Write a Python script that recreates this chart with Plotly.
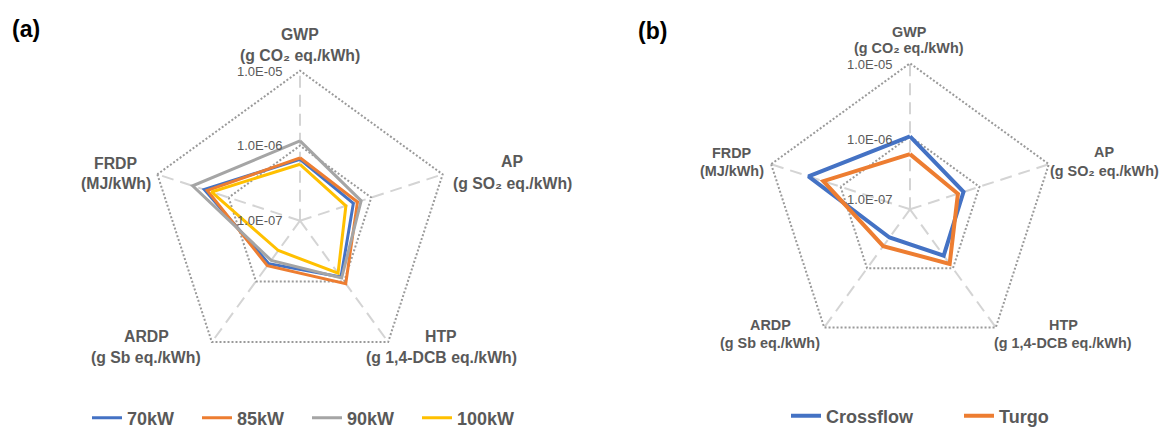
import plotly.graph_objects as go

# Page is 1167x428; the HTML body adds an 8px margin, so the figure is 1159x420
VIEW_W, VIEW_H = 1167, 428
PAGE_OFF = 8
W, H = VIEW_W - PAGE_OFF, VIEW_H - PAGE_OFF

categories = ["GWP", "AP", "HTP", "ARDP", "FRDP"]
cat_titles = ["GWP", "AP", "HTP", "ARDP", "FRDP"]
cat_units = ["(g CO₂ eq./kWh)", "(g SO₂ eq./kWh)", "(g 1,4-DCB eq./kWh)", "(g Sb eq./kWh)", "(MJ/kWh)"]

a_names = ["70kW", "85kW", "90kW", "100kW"]
a_70kW = [6.6e-7, 5.6e-7, 8.5e-7, 5.1e-7, 2.2e-6]
a_85kW = [6.9e-7, 6.4e-7, 1.09e-6, 5.5e-7, 2.0e-6]
a_90kW = [1.16e-6, 7.2e-7, 8.8e-7, 4.5e-7, 3.2e-6]
a_100kW = [5.65e-7, 4.4e-7, 7.3e-7, 3.1e-7, 1.74e-6]
a_colors = ["#4472C4", "#ED7D31", "#A5A5A5", "#FFC000"]

b_names = ["Crossflow", "Turgo"]
b_crossflow = [1.0e-6, 5.9e-7, 6.1e-7, 3.0e-7, 2.9e-6]
b_turgo = [5.7e-7, 4.9e-7, 8.4e-7, 4.2e-7, 1.77e-6]
b_colors = ["#4472C4", "#ED7D31"]

tick_vals = [1e-7, 1e-6, 1e-5]
tick_text = ["1.0E-07", "1.0E-06", "1.0E-05"]

TXT = "#595959"
FONT = "Liberation Sans, Arial, sans-serif"
R_MIN, R_MAX = -7, -4.98  # log10 radial range (slightly beyond 1E-05 so its grid is drawn)


def closed(v):
    return list(v) + [v[0]]


fig = go.Figure()
for name, vals, col in zip(a_names, [a_70kW, a_85kW, a_90kW, a_100kW], a_colors):
    fig.add_trace(go.Scatterpolar(r=closed(vals), theta=closed(categories), mode="lines",
                                  line=dict(color=col, width=3), name=name,
                                  subplot="polar", legend="legend"))
for name, vals, col in zip(b_names, [b_crossflow, b_turgo], b_colors):
    fig.add_trace(go.Scatterpolar(r=closed(vals), theta=closed(categories), mode="lines",
                                  line=dict(color=col, width=4), name=name,
                                  subplot="polar2", legend="legend2"))


def px(x, y):
    """page pixel position -> paper fraction"""
    return (x - PAGE_OFF) / W, 1 - (y - PAGE_OFF) / H


def polar_cfg(cx, cy, R_ring):
    # R_ring: pixel radius of the 1E-05 ring; domain radius covers full range
    R = R_ring * (R_MAX - R_MIN) / 2.0
    x0, y0 = px(cx - R, cy + R)
    x1, y1 = px(cx + R, cy - R)
    return dict(
        domain=dict(x=[x0, x1], y=[y0, y1]),
        gridshape="linear",
        bgcolor="white",
        radialaxis=dict(type="log", range=[R_MIN, R_MAX], angle=90,
                        tickvals=tick_vals, showticklabels=False, showline=False,
                        ticks="", gridcolor="#9A9A9A", gridwidth=1.5, griddash="2px,2px"),
        angularaxis=dict(categoryorder="array", categoryarray=categories,
                         direction="clockwise", rotation=90, showline=False,
                         showticklabels=False, ticks="",
                         gridcolor="#D4D4D4", gridwidth=2, griddash="12px,7px"),
    )


fig.update_layout(polar=polar_cfg(300, 220.7, 150), polar2=polar_cfg(910, 209.3, 146))

annotations = []
# radial tick labels placed left of the vertical GWP spoke (right edge x, centre y per tick)
a_tick_pos = (285, [220.7, 145.7, 71])
b_tick_pos = (895, [200, 139.5, 64.3])
for (xr, ys) in (a_tick_pos, b_tick_pos):
    for txt, yy in zip(tick_text, ys):
        ax, ay = px(xr, yy)
        annotations.append(dict(text=txt, x=ax, y=ay, xref="paper", yref="paper",
                                xanchor="right", yanchor="middle", showarrow=False,
                                font=dict(family=FONT, size=13, color=TXT)))

# axis labels: (center x, title y, unit y)
a_lab = [(300, 35, 55.5), (512, 161.7, 183.3), (441, 336.7, 357.7), (146, 336.7, 357.7), (115.5, 163.3, 183.3)]
b_lab = [(909.3, 31.7, 48.3), (1104, 152, 171), (1063, 325, 343), (770, 325, 343), (732, 153, 171)]
for labs, size in ((a_lab, 15.8), (b_lab, 14.4)):
    for (x, yt, yu), t, u in zip(labs, cat_titles, cat_units):
        for txt, yy in ((t, yt), (u, yu)):
            ax, ay = px(x, yy)
            annotations.append(dict(text=txt, x=ax, y=ay, xref="paper", yref="paper",
                                    xanchor="center", yanchor="middle", showarrow=False,
                                    font=dict(family=FONT, size=size, color=TXT, weight="bold")))
for txt, x, y in (("(a)", 26, 29), ("(b)", 652, 31)):
    ax, ay = px(x, y)
    annotations.append(dict(text=txt, x=ax, y=ay, xref="paper", yref="paper",
                            xanchor="center", yanchor="middle", showarrow=False,
                            font=dict(family=FONT, size=23, color="black", weight="bold")))

lx, ly = px(87, 418)
l2x, l2y = px(786, 416)
fig.update_layout(
    width=W, height=H, margin=dict(l=0, r=0, t=0, b=0, autoexpand=False),
    paper_bgcolor="white", plot_bgcolor="white",
    annotations=annotations,
    legend=dict(orientation="h", x=lx, y=ly, xanchor="left", yanchor="middle",
                font=dict(family=FONT, size=18, color=TXT, weight="bold"),
                entrywidth=65, bgcolor="rgba(0,0,0,0)"),
    legend2=dict(orientation="h", x=l2x, y=l2y, xanchor="left", yanchor="middle",
                 font=dict(family=FONT, size=18, color=TXT, weight="bold"),
                 entrywidth=128, bgcolor="rgba(0,0,0,0)"),
)

fig.write_html("out.html")
